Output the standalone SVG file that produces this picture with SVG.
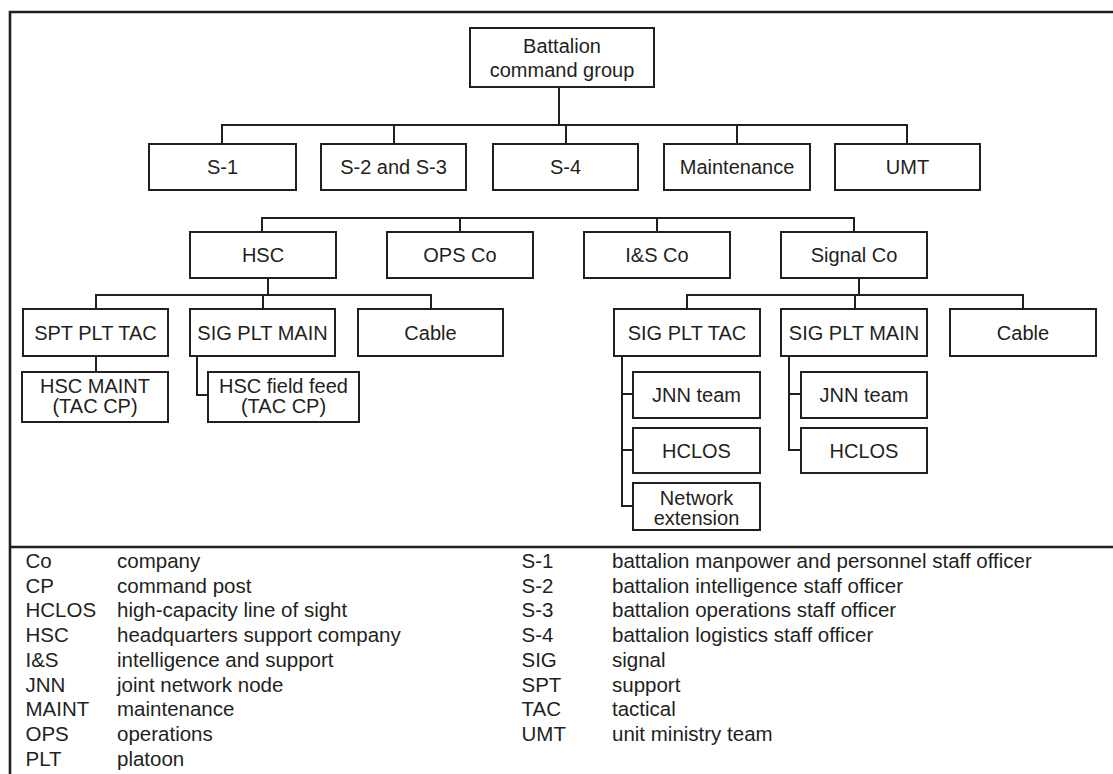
<svg xmlns="http://www.w3.org/2000/svg" width="1113" height="774" viewBox="0 0 1113 774">
  <style>
    .box { fill: #ffffff; stroke: #231f20; stroke-width: 2; }
    .lbl { font-family: "Liberation Sans", Arial, sans-serif; font-size: 20px; fill: #231f20; text-anchor: middle; }
    .leg { font-family: "Liberation Sans", Arial, sans-serif; font-size: 20.5px; fill: #231f20; }
    .wire { fill: none; stroke: #231f20; stroke-width: 2; }
    .frame { fill: none; stroke: #231f20; stroke-width: 2.6; }
  </style>
  <rect x="0" y="0" width="1113" height="774" fill="#ffffff"/>

  <!-- outer frame and legend divider -->
  <g id="frame">
    <path class="frame" d="M10,774 V12 H1113"/>
    <path class="frame" d="M10,547 H1113"/>
  </g>

  <!-- connectors -->
  <g id="connectors">
    <!-- command group to staff sections -->
    <path class="wire" d="M559,87 V125"/>
    <path class="wire" d="M222,144 V125 H907 V144"/>
    <path class="wire" d="M394,125 V144 M566,125 V144 M737,125 V144"/>
    <!-- companies -->
    <path class="wire" d="M262,232 V218 H854 V232"/>
    <path class="wire" d="M460,218 V232 M657,218 V232"/>
    <!-- HSC platoons -->
    <path class="wire" d="M268,278 V295"/>
    <path class="wire" d="M96,309 V295 H431 V309"/>
    <path class="wire" d="M263,295 V309"/>
    <path class="wire" d="M96,356 V372"/>
    <path class="wire" d="M197,356 V395 H208"/>
    <!-- Signal Co platoons -->
    <path class="wire" d="M859,278 V295"/>
    <path class="wire" d="M687,309 V295 H1023 V309"/>
    <path class="wire" d="M855,295 V309"/>
    <!-- SIG PLT TAC teams -->
    <path class="wire" d="M622,356 V506 H633 M622,394 H633 M622,450 H633"/>
    <!-- SIG PLT MAIN teams -->
    <path class="wire" d="M789,356 V450 H801 M789,394 H801"/>
  </g>

  <g id="battalion-command-group">
    <rect class="box" x="470" y="28" width="184" height="59"/>
    <text class="lbl" x="562" y="53">Battalion</text>
    <text class="lbl" x="562" y="76.5">command group</text>
  </g>

  <g id="s1">
    <rect class="box" x="149" y="144" width="147" height="46"/>
    <text class="lbl" x="222.5" y="174">S-1</text>
  </g>
  <g id="s2-s3">
    <rect class="box" x="321" y="144" width="145" height="46"/>
    <text class="lbl" x="393.5" y="174">S-2 and S-3</text>
  </g>
  <g id="s4">
    <rect class="box" x="493" y="144" width="145" height="46"/>
    <text class="lbl" x="565.5" y="174">S-4</text>
  </g>
  <g id="maintenance">
    <rect class="box" x="664" y="144" width="146" height="46"/>
    <text class="lbl" x="737" y="174">Maintenance</text>
  </g>
  <g id="umt">
    <rect class="box" x="835" y="144" width="145" height="46"/>
    <text class="lbl" x="907.5" y="174">UMT</text>
  </g>

  <g id="hsc">
    <rect class="box" x="190" y="232" width="146" height="46"/>
    <text class="lbl" x="263" y="262">HSC</text>
  </g>
  <g id="ops-co">
    <rect class="box" x="387" y="232" width="146" height="46"/>
    <text class="lbl" x="460" y="262">OPS Co</text>
  </g>
  <g id="is-co">
    <rect class="box" x="584" y="232" width="146" height="46"/>
    <text class="lbl" x="657" y="262">I&amp;S Co</text>
  </g>
  <g id="signal-co">
    <rect class="box" x="781" y="232" width="146" height="46"/>
    <text class="lbl" x="854" y="262">Signal Co</text>
  </g>

  <g id="hsc-spt-plt-tac">
    <rect class="box" x="23" y="309" width="145" height="47"/>
    <text class="lbl" x="95.5" y="339.5">SPT PLT TAC</text>
  </g>
  <g id="hsc-sig-plt-main">
    <rect class="box" x="190" y="309" width="145" height="47"/>
    <text class="lbl" x="262.5" y="339.5">SIG PLT MAIN</text>
  </g>
  <g id="hsc-cable">
    <rect class="box" x="358" y="309" width="145" height="47"/>
    <text class="lbl" x="430.5" y="339.5">Cable</text>
  </g>
  <g id="hsc-maint">
    <rect class="box" x="22" y="372" width="146" height="50"/>
    <text class="lbl" x="95" y="393">HSC MAINT</text>
    <text class="lbl" x="95" y="413">(TAC CP)</text>
  </g>
  <g id="hsc-field-feed">
    <rect class="box" x="208" y="372" width="151" height="50"/>
    <text class="lbl" x="283.5" y="393">HSC field feed</text>
    <text class="lbl" x="283.5" y="413">(TAC CP)</text>
  </g>

  <g id="sig-plt-tac">
    <rect class="box" x="614" y="309" width="146" height="47"/>
    <text class="lbl" x="687" y="339.5">SIG PLT TAC</text>
  </g>
  <g id="sig-plt-main">
    <rect class="box" x="781" y="309" width="146" height="47"/>
    <text class="lbl" x="854" y="339.5">SIG PLT MAIN</text>
  </g>
  <g id="signal-cable">
    <rect class="box" x="950" y="309" width="146" height="47"/>
    <text class="lbl" x="1023" y="339.5">Cable</text>
  </g>

  <g id="tac-jnn-team">
    <rect class="box" x="633" y="372" width="127" height="46"/>
    <text class="lbl" x="696.5" y="402">JNN team</text>
  </g>
  <g id="tac-hclos">
    <rect class="box" x="633" y="428" width="127" height="45"/>
    <text class="lbl" x="696.5" y="457.5">HCLOS</text>
  </g>
  <g id="tac-network-extension">
    <rect class="box" x="633" y="483" width="127" height="47"/>
    <text class="lbl" x="696.5" y="505">Network</text>
    <text class="lbl" x="696.5" y="525">extension</text>
  </g>

  <g id="main-jnn-team">
    <rect class="box" x="801" y="372" width="126" height="46"/>
    <text class="lbl" x="864" y="402">JNN team</text>
  </g>
  <g id="main-hclos">
    <rect class="box" x="801" y="428" width="126" height="45"/>
    <text class="lbl" x="864" y="457.5">HCLOS</text>
  </g>

  <!-- abbreviation key -->
  <g id="legend-left" class="leg">
    <text x="25.5" y="568">Co</text><text x="117" y="568">company</text>
    <text x="25.5" y="592.7">CP</text><text x="117" y="592.7">command post</text>
    <text x="25.5" y="617.4">HCLOS</text><text x="117" y="617.4">high-capacity line of sight</text>
    <text x="25.5" y="642.1">HSC</text><text x="117" y="642.1">headquarters support company</text>
    <text x="25.5" y="666.8">I&amp;S</text><text x="117" y="666.8">intelligence and support</text>
    <text x="25.5" y="691.5">JNN</text><text x="117" y="691.5">joint network node</text>
    <text x="25.5" y="716.2">MAINT</text><text x="117" y="716.2">maintenance</text>
    <text x="25.5" y="740.9">OPS</text><text x="117" y="740.9">operations</text>
    <text x="25.5" y="765.6">PLT</text><text x="117" y="765.6">platoon</text>
  </g>
  <g id="legend-right" class="leg">
    <text x="521.5" y="568">S-1</text><text x="612" y="568">battalion manpower and personnel staff officer</text>
    <text x="521.5" y="592.7">S-2</text><text x="612" y="592.7">battalion intelligence staff officer</text>
    <text x="521.5" y="617.4">S-3</text><text x="612" y="617.4">battalion operations staff officer</text>
    <text x="521.5" y="642.1">S-4</text><text x="612" y="642.1">battalion logistics staff officer</text>
    <text x="521.5" y="666.8">SIG</text><text x="612" y="666.8">signal</text>
    <text x="521.5" y="691.5">SPT</text><text x="612" y="691.5">support</text>
    <text x="521.5" y="716.2">TAC</text><text x="612" y="716.2">tactical</text>
    <text x="521.5" y="740.9">UMT</text><text x="612" y="740.9">unit ministry team</text>
  </g>
</svg>
